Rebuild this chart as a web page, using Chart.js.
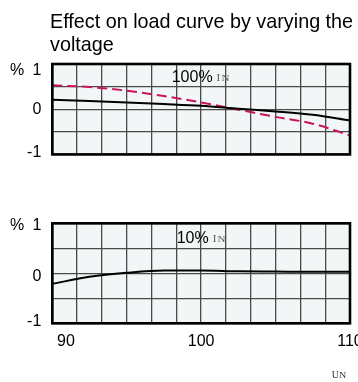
<!DOCTYPE html>
<html>
<head>
<meta charset="utf-8">
<script src="https://cdn.jsdelivr.net/npm/chart.js@4/dist/chart.umd.min.js"></script>
<style>
  html, body { margin: 0; padding: 0; background: #ffffff; overflow: hidden; }
  #wrap { position: relative; width: 358px; height: 382px; overflow: hidden; background: #fff; }
  #c1 { position: absolute; left: 0; top: 0; }
  #c2 { position: absolute; left: 0; top: 175px; }
</style>
</head>
<body>
<div id="wrap">
  <canvas id="c1" width="358" height="175"></canvas>
  <canvas id="c2" width="372" height="207"></canvas>
</div>
<script>
// ---- data ----
const titleLines = ['Effect on load curve by varying the', 'voltage'];
const voltage = [90, 92.5, 95, 97.5, 100, 102.5, 105, 107.5, 110];          // % of U_N
const fullLoadSolid  = [0.21, 0.18, 0.15, 0.115, 0.075, 0.01, -0.05, -0.125, -0.25];
const fullLoadDashed = [0.53, 0.49, 0.41, 0.29, 0.15, -0.01, -0.17, -0.32, -0.58];
const lowLoadSolid   = [-0.21, -0.07, 0.01, 0.055, 0.055, 0.04, 0.035, 0.03, 0.03];
const yTickLabels = ['1', '0', '-1'];
const topYTickPos = [0.86, -0.014, -0.955];
const botYTickPos = [0.946, -0.068, -0.968];
const xTickLabels = ['90', '100', '110'];
const xTickPos = [90.92, 100, 110];
const panelLabels = ['100%', '10%'];

const SANS = "'Liberation Sans', Arial, sans-serif";
const SERIF = "'Liberation Serif', 'Times New Roman', serif";
const GRID = '#4a4a4a';
const PLOTBG = '#f3f6f7';
const DASHCOL = '#c8155a';

const pts = (ys) => voltage.map((x, i) => ({ x, y: ys[i] }));

function framePlugin(extra) {
  return {
    id: 'frame',
    beforeDraw(chart) {
      const { ctx, chartArea: a } = chart;
      ctx.save();
      ctx.fillStyle = PLOTBG;
      ctx.fillRect(a.left, a.top, a.right - a.left, a.bottom - a.top);
      ctx.restore();
    },
    afterDraw(chart) {
      const { ctx, chartArea: a } = chart;
      ctx.save();
      ctx.strokeStyle = '#000';
      ctx.lineWidth = 2.6;
      ctx.strokeRect(a.left, a.top, a.right - a.left, a.bottom - a.top);
      // "%" unit next to the top tick
      const yl = chart.scales.yl;
      const yp = yl.getPixelForValue(yl.ticks[0].value);
      ctx.fillStyle = '#000';
      ctx.font = '16px ' + SANS;
      ctx.textAlign = 'left';
      ctx.textBaseline = 'middle';
      ctx.fillText('%', 10, yp);
      extra(ctx, chart);
      ctx.restore();
    }
  };
}

// subscript-style "N" (short, wide serif letter)
function smallN(ctx, x, base, size) {
  ctx.save();
  ctx.translate(x, base);
  ctx.scale(1, 0.78);
  ctx.font = size + 'px ' + SERIF;
  ctx.fillText('N', 0, 0);
  ctx.restore();
}

function drawIN(ctx, label, x, base) {
  ctx.textBaseline = 'alphabetic';
  ctx.textAlign = 'left';
  ctx.fillStyle = '#000';
  ctx.font = '16px ' + SANS;
  ctx.fillText(label, x, base);
  const w = ctx.measureText(label).width;
  ctx.fillStyle = '#555';
  ctx.font = '11px ' + SERIF;
  ctx.fillText('I', x + w + 4, base - 1);
  const wi = ctx.measureText('I').width;
  smallN(ctx, x + w + 4 + wi + 1.2, base - 1, 11);
}

function makeOptions(tickPos, padding, xLabels) {
  const scales = {
    x: {
      type: 'linear', min: 90, max: 110,
      ticks: { count: 13, display: false },
      grid: { color: GRID, lineWidth: 1.3, drawTicks: false },
      border: { display: false },
      afterFit: s => { s.height = 0; }
    },
    y: {
      type: 'linear', min: -1, max: 1,
      ticks: { count: 5, display: false },
      grid: { color: GRID, lineWidth: 1.3, drawTicks: false },
      border: { display: false },
      afterFit: s => { s.width = 0; }
    },
    yl: {
      type: 'linear', position: 'left', min: -1, max: 1,
      afterBuildTicks: s => { s.ticks = tickPos.map(v => ({ value: v })); },
      ticks: {
        autoSkip: false, padding: 11, color: '#000',
        font: { family: SANS, size: 16 },
        callback: (v, i) => yTickLabels[i]
      },
      grid: { display: false, drawTicks: false },
      border: { display: false },
      afterFit: s => { s.width = 52.3; }
    }
  };
  if (xLabels) {
    scales.xl = {
      type: 'linear', position: 'bottom', min: 90, max: 110,
      afterBuildTicks: s => { s.ticks = xTickPos.map(v => ({ value: v })); },
      ticks: {
        autoSkip: false, maxRotation: 0, padding: 9, color: '#000',
        font: { family: SANS, size: 16 },
        callback: (v, i) => xTickLabels[i]
      },
      grid: { display: false, drawTicks: false },
      border: { display: false },
      afterFit: s => { s.height = 30; }
    };
  }
  return {
    responsive: false, animation: false, devicePixelRatio: 1,
    layout: { padding },
    plugins: { legend: { display: false }, tooltip: { enabled: false }, title: { display: false } },
    elements: { point: { radius: 0 }, line: { cubicInterpolationMode: 'monotone' } },
    scales
  };
}

new Chart(document.getElementById('c1'), {
  type: 'line',
  data: {
    datasets: [
      { data: pts(fullLoadSolid), borderColor: '#000', borderWidth: 2, fill: false },
      { data: pts(fullLoadDashed), borderColor: DASHCOL, borderWidth: 2, borderDash: [10, 5], fill: false }
    ]
  },
  options: makeOptions(topYTickPos, { left: 0, right: 8, top: 64, bottom: 175 - 163.3 }, false),
  plugins: [framePlugin((ctx, chart) => {
    ctx.fillStyle = '#000';
    ctx.font = '19.8px ' + SANS;
    ctx.textAlign = 'left';
    ctx.textBaseline = 'alphabetic';
    ctx.fillText(titleLines[0], 50, 27.7);
    ctx.fillText(titleLines[1], 50, 50.7);
    drawIN(ctx, panelLabels[0], 171.7, 82.3);
  })]
});

new Chart(document.getElementById('c2'), {
  type: 'line',
  data: {
    datasets: [
      { data: pts(lowLoadSolid), borderColor: '#000', borderWidth: 2, fill: false }
    ]
  },
  options: makeOptions(botYTickPos, { left: 0, right: 22, top: 48.3, bottom: 207 - 148.3 - 30 }, true),
  plugins: [framePlugin((ctx, chart) => {
    drawIN(ctx, panelLabels[1], 176.7, 67.8);
    ctx.fillStyle = '#333';
    ctx.textAlign = 'left';
    ctx.textBaseline = 'alphabetic';
    ctx.font = '10px ' + SERIF;
    ctx.fillText('U', 331.7, 203.3);
    const wu = ctx.measureText('U').width;
    smallN(ctx, 331.7 + wu, 203.3, 10);
  })]
});
</script>
</body>
</html>
